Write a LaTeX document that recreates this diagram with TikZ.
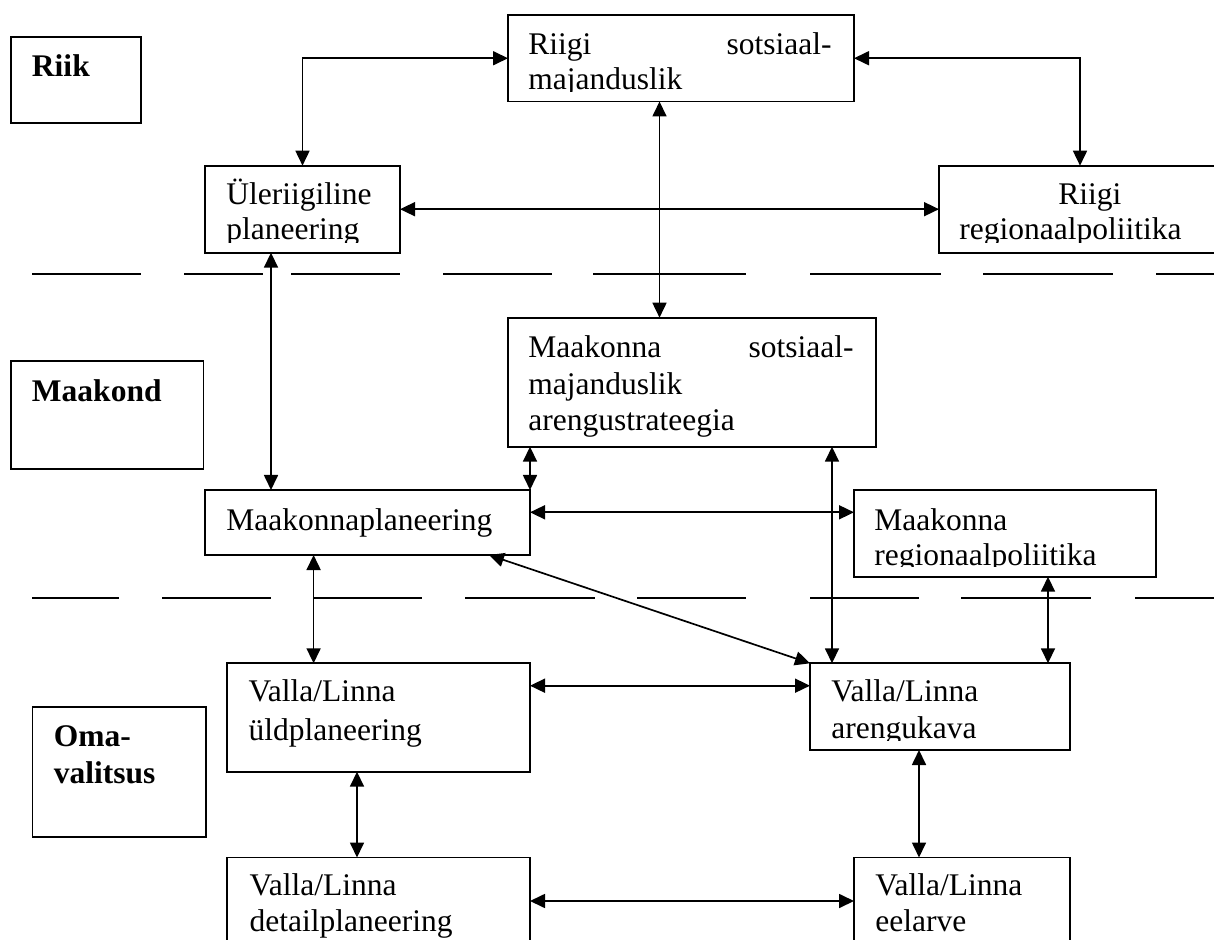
\documentclass[tikz,border=0pt]{standalone}
\usepackage{fontspec}
\setmainfont{Liberation Serif}
\usetikzlibrary{arrows.meta,fit}
\begin{document}
\begin{tikzpicture}[x=0.5pt,y=-0.5pt,
  box/.style={draw, line width=0.85pt, inner sep=0pt, outer sep=0pt},
  txt/.style={inner sep=0pt, anchor=base west, font=\fontsize{15.75}{18}\selectfont},
  txr/.style={txt, anchor=base east},
  lbl/.style={txt, font=\fontsize{15.75}{18}\selectfont\bfseries},
  arr/.style={{Triangle[length=7.5pt,width=7pt]}-{Triangle[length=7.5pt,width=7pt]}, line width=0.85pt},
  sepline/.style={line width=0.85pt}]
\useasboundingbox (0,0) rectangle (1214,940);
\clip (0,0) rectangle (1214,940);

% level labels
\node[box, fit={(11,37) (141,123)}] (riik) {};
\node[lbl] (riikt) at (31.6,77) {Riik};
\node[box, fit={(11,361) (203.6,469)}] (maak) {};
\node[lbl] (maakt) at (31.6,401.7) {Maakond};
\node[box, fit={(32.4,706.7) (206,836.7)}] (oma) {};
\node[lbl] (omat1) at (53.4,746.7) {Oma-};
\node[lbl] (omat2) at (53.4,783.3) {valitsus};

% boxes
\node[box, fit={(508,15) (854,101.5)}] (rs) {};
\node[box, fit={(205,165.7) (400,252.7)}] (ul) {};
\node[box, fit={(939,165.7) (1221,252.7)}] (rr) {};
\node[box, fit={(508,317.7) (876,446.7)}] (ms) {};
\node[box, fit={(205,490) (530,555)}] (mp) {};
\node[box, fit={(854,490) (1156,576.7)}] (mr) {};
\node[box, fit={(227,663.3) (530,771.7)}] (vu) {};
\node[box, fit={(810,663.3) (1070,750)}] (va) {};
\node[box, fit={(227,857.5) (530,960)}] (vd) {};
\node[box, fit={(854,857.5) (1070,960)}] (ve) {};

% texts (clipped inside boxes)
\begin{scope}
\clip (rs.north west) rectangle ([yshift=5pt]rs.south east);
\node[txt] (rs1) at (528,55) {Riigi};
\node[txr] (rs2) at (832,55) {sotsiaal-};
\node[txt] (rs3) at (528,90) {majanduslik};
\end{scope}
\begin{scope}
\clip (ul.north west) rectangle ([yshift=5pt]ul.south east);
\node[txt] (ul1) at (226,205) {Üleriigiline};
\node[txt] (ul2) at (226,240) {planeering};
\end{scope}
\begin{scope}
\clip (rr.north west) rectangle ([yshift=5pt]rr.south east);
\node[txt] (rr1) at (1058,205) {Riigi};
\node[txt] (rr2) at (959,240) {regionaalpoliitika};
\end{scope}
\node[txt] (ms1) at (528,358) {Maakonna};
\node[txr] (ms2) at (854,358) {sotsiaal-};
\node[txt] (ms3) at (528,395) {majanduslik};
\node[txt] (ms4) at (528,430) {arengustrateegia};
\node[txt] (mp1) at (226,530) {Maakonnaplaneering};
\begin{scope}
\clip (mr.north west) rectangle ([yshift=5pt]mr.south east);
\node[txt] (mr1) at (874,530) {Maakonna};
\node[txt] (mr2) at (874,565) {regionaalpoliitika};
\end{scope}
\node[txt] (vu1) at (248.3,701.7) {Valla/Linna};
\node[txt] (vu2) at (248.3,740) {üldplaneering};
\begin{scope}
\clip (va.north west) rectangle ([yshift=5pt]va.south east);
\node[txt] (va1) at (831,701.7) {Valla/Linna};
\node[txt] (va2) at (831,738.3) {arengukava};
\end{scope}
\node[txt] (vd1) at (249.3,895.7) {Valla/Linna};
\node[txt] (vd2) at (249.3,931.7) {detailplaneering};
\node[txt] (ve1) at (875,895.7) {Valla/Linna};
\node[txt] (ve2) at (875,931.7) {eelarve};

% separator lines
\foreach \a/\b in {32/141,184/263,291/400,443/552,593/746,810/941,983/1113,1156/1220}
  \draw[sepline] (\a,274) -- (\b,274);
\foreach \a/\b in {32/119,162/271,314/422,465/595,637/746,810/919,961/1091,1135/1220}
  \draw[sepline] (\a,598.3) -- (\b,598.3);

% connectors
\draw[arr] (rs.west) -| (ul.north);
\draw[arr] (rs.east) -| (rr.north);
\draw[arr] (ul.east) -- (rr.west);
\draw[arr] (rs.south -| 659.5,0) -- (ms.north -| 659.5,0);
\draw[arr] (ul.south -| 271,0) -- (mp.north -| 271,0);
\draw[arr] (ms.south -| mp.north east) -- (mp.north east);
\draw[arr] (mp.east |- 0,512.3) -- (mr.west |- 0,512.3);
\draw[arr] (ms.south -| 832,0) -- (va.north -| 832,0);
\draw[arr] (mp.south -| 489,0) -- (va.north west);
\draw[arr] (mr.south -| 1048,0) -- (va.north -| 1048,0);
\draw[arr] (mp.south -| 313.6,0) -- (vu.north -| 313.6,0);
\draw[arr] (vu.east |- 0,685.7) -- (va.west |- 0,685.7);
\draw[arr] (vu.south -| 357,0) -- (vd.north -| 357,0);
\draw[arr] (va.south -| 919,0) -- (ve.north -| 919,0);
\draw[arr] (vd.east |- 0,901) -- (ve.west |- 0,901);
\end{tikzpicture}
\end{document}
